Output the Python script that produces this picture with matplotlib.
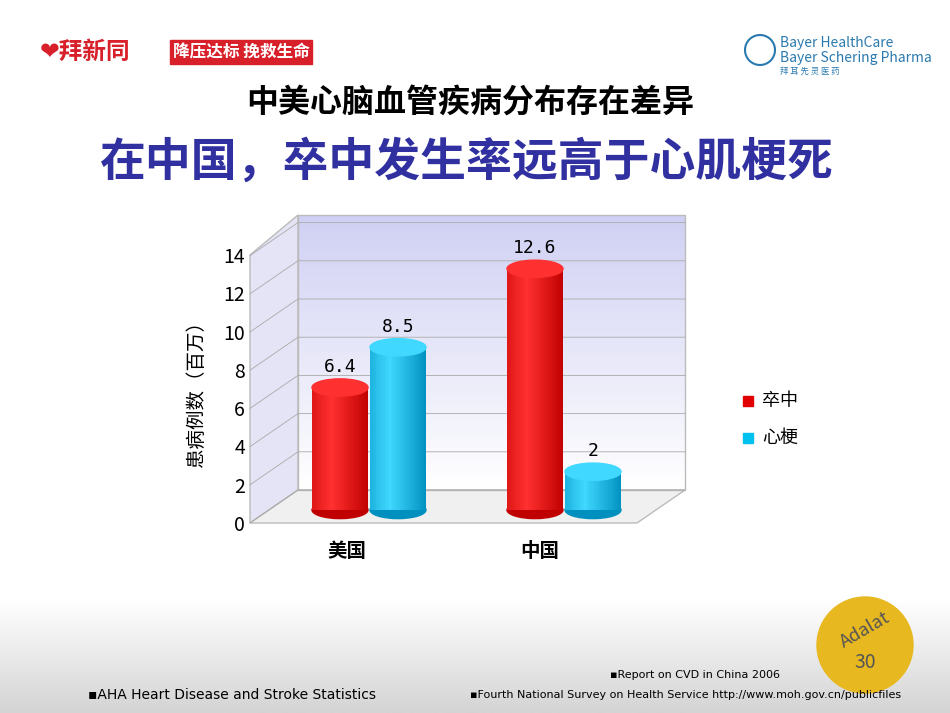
import matplotlib
matplotlib.use("Agg")
import matplotlib.pyplot as plt
import numpy as np
from matplotlib.patches import Rectangle, Ellipse, Polygon, Circle

plt.rcParams['font.family'] = ['Noto Sans CJK SC', 'DejaVu Sans']

categories = ['美国', '中国']
series_names = ['卒中', '心梗']
stroke = [6.4, 12.6]
mi = [8.5, 2]
yticks = [0, 2, 4, 6, 8, 10, 12, 14]

W, H = 950, 713
fig = plt.figure(figsize=(W/100, H/100), dpi=100)
bg = fig.add_axes([0, 0, 1, 1]); bg.set_xlim(0, W); bg.set_ylim(H, 0); bg.axis('off')
grad = np.linspace(0, 1, 100).reshape(-1, 1)
bg.imshow(grad, extent=[0, W, H, 600], cmap=matplotlib.colors.LinearSegmentedColormap.from_list('g', ['#ffffff', '#d4d4d4']), aspect='auto', zorder=0)
# back wall gradient
wall = np.linspace(0, 1, 100).reshape(-1, 1)
bg.imshow(wall, extent=[298, 685, 490, 215], cmap=matplotlib.colors.LinearSegmentedColormap.from_list('w', ['#d0d0f4', '#ffffff']), aspect='auto', zorder=1)
bg.set_xlim(0, W); bg.set_ylim(H, 0)
bg.text(40, 52, '❤拜新同', color='#d8202a', fontsize=17, fontweight='bold', va='center')
bg.add_patch(Rectangle((170, 40), 142, 24, color='#d8202a'))
bg.text(241, 52, '降压达标 挽救生命', color='white', fontsize=12, fontweight='bold', ha='center', va='center')
bg.text(780, 43, 'Bayer HealthCare', color='#2a7ab0', fontsize=10, va='center')
bg.text(780, 58, 'Bayer Schering Pharma', color='#2a7ab0', fontsize=10, va='center')
bg.text(780, 71, '拜 耳 先 灵 医 药', color='#2a7ab0', fontsize=6, va='center')
bg.add_patch(Circle((760, 50), 15, fill=False, ec='#2a7ab0', lw=1.5))
bg.text(470, 103, '中美心脑血管疾病分布存在差异', fontsize=23, fontweight='bold', ha='center', va='center')
bg.text(467, 163, '在中国，卒中发生率远高于心肌梗死', fontsize=33, fontweight='bold', color='#3030a0', ha='center', va='center')
bg.add_patch(Circle((865, 645), 48, color='#e8b820'))
bg.text(865, 630, 'Adalat', fontsize=13, color='#555', ha='center', va='center', rotation=30)
bg.text(865, 662, '30', fontsize=14, color='#555', ha='center', va='center')
bg.text(88, 695, '▪AHA Heart Disease and Stroke Statistics', fontsize=10, va='center', family=['DejaVu Sans'])
bg.text(610, 675, '▪Report on CVD in China 2006', fontsize=8, va='center', family=['DejaVu Sans'])
bg.text(470, 695, '▪Fourth National Survey on Health Service http://www.moh.gov.cn/publicfiles', fontsize=8, va='center', family=['DejaVu Sans'])
bg.add_patch(Polygon([[298, 215], [685, 215], [685, 490], [298, 490]], closed=True, fill=False, ec='#bbbbbb', zorder=1.2))
bg.add_patch(Polygon([[250, 255], [298, 215], [298, 490], [250, 523]], closed=True, fc='#e4e4f6', ec='#bbbbbb', zorder=1))
bg.add_patch(Polygon([[250, 523], [298, 490], [685, 490], [637, 523]], closed=True, fc='#f0f0f0', ec='#bbbbbb', zorder=1))
for v in yticks:
    yp = 523 - v*19.1
    bg.plot([250, 298, 685], [yp, yp-33, yp-33], color='#aaaaaa', lw=0.6, zorder=1.5)
bg.add_patch(Rectangle((743, 396), 10, 10, color='#e00000'))
bg.text(762, 401, '卒中', fontsize=13, va='center')
bg.add_patch(Rectangle((743, 433), 10, 10, color='#00c0f0'))
bg.text(762, 438, '心梗', fontsize=13, va='center')

ax = fig.add_axes([250/W, (H-523)/H, 435/W, (523-255)/H])
ax.patch.set_alpha(0)
ax.set_xlim(0, 435); ax.set_ylim(0, 14)
for s in ax.spines.values(): s.set_visible(False)
ax.set_xticks([97, 290]); ax.set_xticklabels(categories, fontsize=14, fontweight='bold')
ax.tick_params(axis='x', length=0, pad=14)
ax.set_yticks(yticks); ax.set_yticklabels([str(t) for t in yticks], fontsize=14)
ax.tick_params(axis='y', length=0)
ax.set_ylabel('患病例数（百万）', fontsize=14, labelpad=12)

off = 0.68
bw = 56
eh = 0.9
def cyl(xc, v, light, dark):
    n = 30
    cm = matplotlib.colors.LinearSegmentedColormap.from_list('c', [dark, light, dark])
    for i in range(n):
        ax.add_patch(Rectangle((xc - bw/2 + i*bw/n, off), bw/n + 0.3, v, color=cm(0.25 + 0.75*i/n), lw=0, zorder=3))
    ax.add_patch(Ellipse((xc, off), bw, eh, color=dark, zorder=2.9))
    ax.add_patch(Ellipse((xc, off + v), bw, eh, color=light, zorder=4))
    ax.text(xc, off + v + 0.6, f'{v:g}', ha='center', va='bottom', fontsize=13, family=['DejaVu Sans Mono'], zorder=5)

for i, xc in enumerate([90, 285]):
    cyl(xc, stroke[i], '#ff3030', '#c00000')
    cyl(xc + 58, mi[i], '#40d8ff', '#0090c0')

fig.savefig('out.png', dpi=100)
